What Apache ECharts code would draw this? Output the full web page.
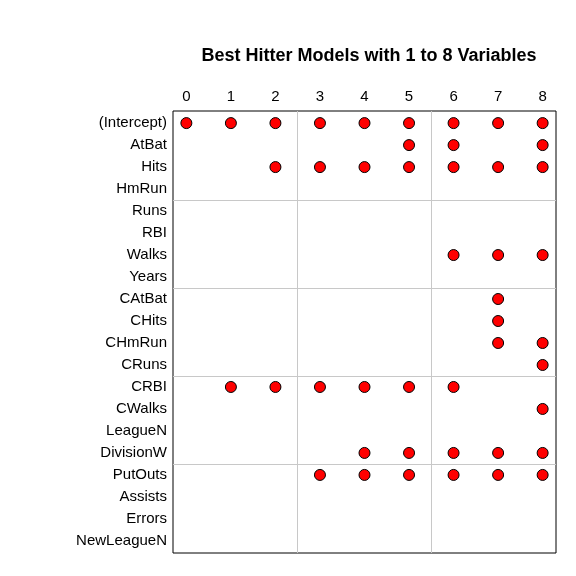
<!DOCTYPE html>
<html lang="en">
<head>
<meta charset="UTF-8">
<title>Best Hitter Models</title>
<script src="https://cdn.jsdelivr.net/npm/echarts@6/dist/echarts.min.js"></script>
<style>html,body{margin:0;background:#fff}</style>
</head>
<body>
<div id="main" style="width:576px;height:576px;"></div>
<script type="text/javascript">
// variable names, top to bottom
var vars = ['(Intercept)','AtBat','Hits','HmRun','Runs','RBI','Walks','Years','CAtBat','CHits',
            'CHmRun','CRuns','CRBI','CWalks','LeagueN','DivisionW','PutOuts','Assists','Errors','NewLeagueN'];
// model sizes (0..8) in which each variable is selected
var chosen = {
    '(Intercept)': [0,1,2,3,4,5,6,7,8],
    'AtBat': [5,6,8],
    'Hits': [2,3,4,5,6,7,8],
    'Walks': [6,7,8],
    'CAtBat': [7],
    'CHits': [7],
    'CHmRun': [7,8],
    'CRuns': [8],
    'CRBI': [1,2,3,4,5,6],
    'CWalks': [8],
    'DivisionW': [4,5,6,7,8],
    'PutOuts': [3,4,5,6,7,8]
};
var sizes = [0,1,2,3,4,5,6,7,8];

var pts = [];
vars.forEach(function (v, i) {
    (chosen[v] || []).forEach(function (k) { pts.push([k, i]); });
});

var myChart = echarts.init(document.getElementById('main'));
var font = 'Liberation Sans, Arial, sans-serif';
var option = {
    animation: false,
    title: {
        text: 'Best Hitter Models with 1 to 8 Variables',
        left: 364, top: 42, textAlign: 'center',
        textStyle: {fontFamily: font, fontSize: 18, fontWeight: 'bold', color: '#000'}
    },
    grid: {left: 173, right: 20, top: 111, bottom: 23, show: true, borderColor: '#000', borderWidth: 1},
    xAxis: {
        type: 'value', position: 'top', min: -0.3, max: 8.3,
        axisLine: {show: false}, axisTick: {show: false}, splitLine: {show: false},
        axisLabel: {customValues: sizes, color: '#000', fontFamily: font, fontSize: 15, margin: 7}
    },
    yAxis: {
        type: 'value', inverse: true, min: -0.55, max: 19.55,
        axisLine: {show: false}, axisTick: {show: false}, splitLine: {show: false},
        axisLabel: {
            customValues: vars.map(function (v, i) { return i; }),
            formatter: function (val) { return vars[Math.round(val)]; },
            color: '#000', fontFamily: font, fontSize: 15, margin: 6
        }
    },
    series: [{
        type: 'scatter',
        data: pts,
        symbolSize: 11,
        itemStyle: {color: '#ff0000', borderColor: '#000', borderWidth: 1, opacity: 1},
        markLine: {
            silent: true, symbol: 'none', label: {show: false},
            lineStyle: {color: '#c8c8c8', type: 'solid', width: 1},
            data: [{xAxis: 2.5}, {xAxis: 5.5}, {yAxis: 3.5}, {yAxis: 7.5}, {yAxis: 11.5}, {yAxis: 15.5}]
        },
        z: 3
    }]
};
myChart.setOption(option);
</script>
</body>
</html>
